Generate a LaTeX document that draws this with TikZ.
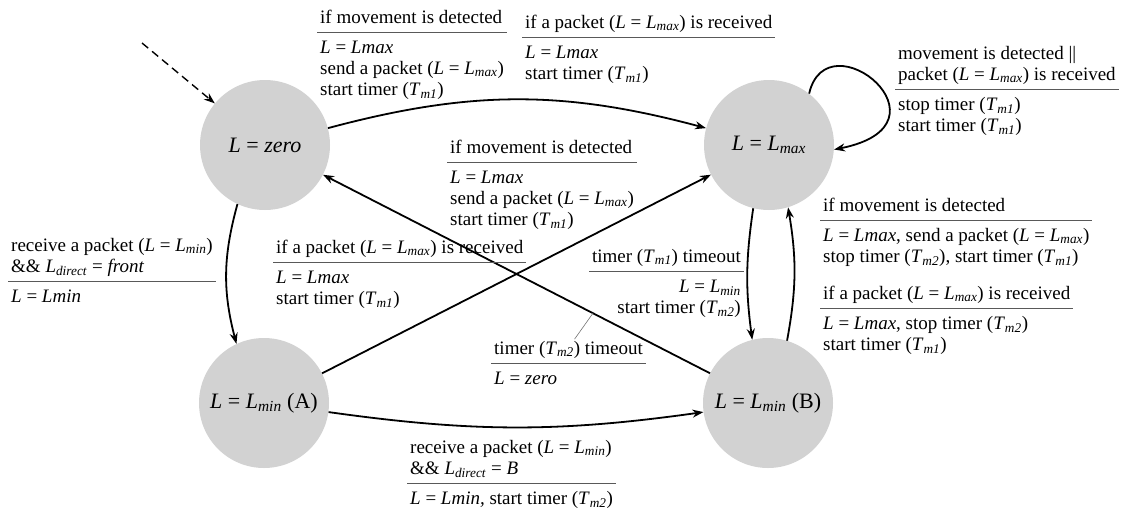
\documentclass[tikz,border=0pt]{standalone}
\usepackage{fontspec}
\setmainfont{Liberation Serif}
\usepackage{tikz}
\usepackage{colortbl}
\usetikzlibrary{positioning, arrows.meta, calc}

\tikzstyle{state} = [circle, minimum size=130pt, inner sep=0pt, fill=gray!35, text centered, font=\fontsize{22}{24}\selectfont]
\tikzstyle{cond} = [inner sep=0pt, anchor=base west, font=\fontsize{19}{21}\selectfont]
\tikzstyle{arrow} = [line width=1.8pt, ->, >={Stealth[length=11pt,width=8pt]}]
\tikzstyle{leader} = [black!55, line width=0.6pt]

\newcommand{\Lx}[1]{\textit{L}\textsubscript{\textit{#1}}}
\newcommand{\Tx}[1]{\textit{T}\textsubscript{\textit{m#1}}}
\newcommand{\hd}{\rule[-9pt]{0pt}{0pt}}
\newcommand{\bd}{\rule{0pt}{20pt}}
\newcommand{\lab}[2]{\begin{tabular}[t]{@{\hspace{3pt}}l@{\hspace{3pt}}}#1\hd\\ \hline \bd #2\end{tabular}}
\newcommand{\labr}[2]{\begin{tabular}[t]{@{\hspace{3pt}}r@{\hspace{3pt}}}#1\hd\\ \hline \bd #2\end{tabular}}
\arrayrulecolor{black!65}
\setlength{\arrayrulewidth}{1.3pt}

\begin{document}
\begin{tikzpicture}[x=1pt, y=1pt, node distance=258pt]
\useasboundingbox (0,0) rectangle (1122,-509);

\node (zero) [state] at (265,-145) {\textit{L} = \textit{zero}};
\node (lmax) [state, right of=zero, xshift=246pt] {\textit{L} = \Lx{max}};
\node (lmina) [state, below of=zero, xshift=-1pt] {\textit{L} = \Lx{min} (A)};
\node (lminb) [state, below of=lmax, xshift=-1pt] {\textit{L} = \Lx{min} (B)};

\coordinate (init) at (142,-43);
\draw [arrow, line width=1.4pt, dash pattern=on 8pt off 5pt] (init) -- (zero);

\draw [arrow] (zero) to[out=15, in=165] (lmax);
\draw [arrow] (lmax.52) .. controls +(18,78) and +(126,25) .. (lmax.-4);
\draw [arrow] (zero.245) to[bend right=15] (lmina.115);
\draw [arrow] (lmina) -- (lmax);
\draw [arrow] (lminb) -- (zero);
\draw [arrow] (lmina) to[bend right=8] (lminb);
\draw [arrow] (lmax.256) to[bend right=8] (lminb.104);
\draw [arrow] (lminb.73) to[bend right=10] (lmax.287);

\node (la) [cond] at (317,-23) {\lab{if movement is detected}{\textit{L} = \textit{Lmax}\\ send a packet (\textit{L} = \Lx{max})\\ start timer (\Tx{1})}};
\node (lb) [cond] at (522,-28) {\lab{if a packet (\textit{L} = \Lx{max}) is received}{\textit{L} = \textit{Lmax}\\ start timer (\Tx{1})}};
\node (lc) [cond] at (895,-59) {\lab{movement is detected ||\\ packet (\textit{L} = \Lx{max}) is received}{stop timer (\Tx{1})\\ start timer (\Tx{1})}};
\node (ld) [cond] at (447,-153) {\lab{if movement is detected}{\textit{L} = \textit{Lmax}\\ send a packet (\textit{L} = \Lx{max})\\ start timer (\Tx{1})}};
\node (le) [cond] at (273,-253) {\lab{if a packet (\textit{L} = \Lx{max}) is received}{\textit{L} = \textit{Lmax}\\ start timer (\Tx{1})}};
\node (lf) [cond] at (8,-251) {\lab{receive a packet (\textit{L} = \Lx{min})\\ \&\& \Lx{direct} = \textit{front}}{\textit{L} = \textit{Lmin}}};
\node (lg) [cond, anchor=base east] at (744,-262) {\labr{timer (\Tx{1}) timeout}{\textit{L} = \Lx{min}\\ start timer (\Tx{2})}};
\node (lh) [cond] at (491,-354) {\lab{timer (\Tx{2}) timeout}{\textit{L} = \textit{zero}}};
\node (li) [cond] at (407,-453) {\lab{receive a packet (\textit{L} = \Lx{min})\\ \&\& \Lx{direct} = \textit{B}}{\textit{L} = \textit{Lmin,} start timer (\Tx{2})}};
\node (lj) [cond] at (820,-211) {\lab{if movement is detected}{\textit{L} = \textit{Lmax},\ send a packet (\textit{L} = \Lx{max})\\ stop timer (\Tx{2}), start timer (\Tx{1})}};
\node (lk) [cond] at (820,-299) {\lab{if a packet (\textit{L} = \Lx{max}) is received}{\textit{L} = \textit{Lmax},\ stop timer (\Tx{2})\\ start timer (\Tx{1})}};

\coordinate (tmo) at ($(lminb)!0.348!(zero)$);
\draw [leader] (tmo) -- ([xshift=6pt]lh.north);

\end{tikzpicture}
\end{document}
